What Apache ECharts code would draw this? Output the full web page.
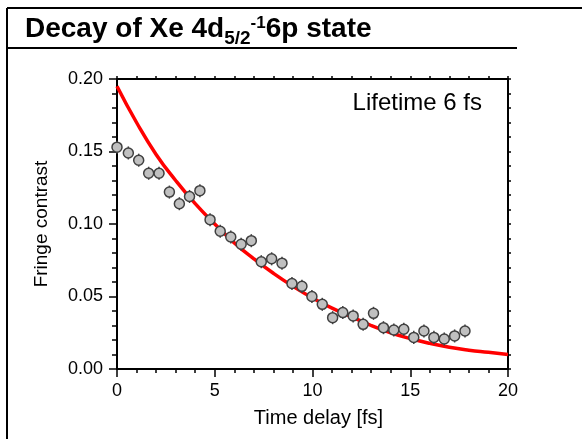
<!DOCTYPE html>
<html>
<head>
<meta charset="utf-8">
<script src="https://cdn.jsdelivr.net/npm/echarts@6/dist/echarts.min.js"></script>
<style>
  html, body { margin: 0; padding: 0; background: #fff; }
  #chart { width: 582px; height: 439px; }
</style>
</head>
<body>
<div id="chart"></div>
<script>
// measured points (time delay in fs, fringe contrast, error)
const timeDelay = [0, 0.58, 1.11, 1.62, 2.15, 2.68, 3.19, 3.71, 4.24, 4.76, 5.28, 5.82,
    6.35, 6.87, 7.38, 7.91, 8.44, 8.95, 9.46, 9.97, 10.50, 11.03, 11.55, 12.08,
    12.59, 13.12, 13.63, 14.16, 14.67, 15.18, 15.70, 16.21, 16.74, 17.27, 17.80];
const contrast = [0.153, 0.149, 0.144, 0.135, 0.135, 0.122, 0.114, 0.119, 0.123, 0.103, 0.095, 0.091,
    0.086, 0.0885, 0.074, 0.076, 0.073, 0.059, 0.057, 0.050, 0.0446, 0.0354, 0.0389, 0.0366,
    0.0308, 0.0384, 0.0285, 0.0269, 0.0274, 0.0218, 0.0262, 0.0218, 0.0207, 0.0228, 0.0262];
const errors = [0.0045, 0.0045, 0.0045, 0.0045, 0.0045, 0.0045, 0.0045, 0.0045, 0.0045, 0.0045, 0.0045, 0.0045,
    0.0045, 0.0045, 0.0045, 0.0045, 0.0045, 0.0045, 0.0045, 0.0045, 0.0045, 0.0045, 0.0045, 0.0045,
    0.0045, 0.0045, 0.0045, 0.0045, 0.0045, 0.0045, 0.0045, 0.0045, 0.0045, 0.0045, 0.0045];

// fitted decay curve
const fitTime = [0, 1, 2, 3, 4, 5, 6, 7, 8, 9, 10, 11, 12, 13, 14, 15, 16, 17, 18, 19, 20];
const fitValue = [0.195, 0.170, 0.148, 0.130, 0.114, 0.100, 0.087, 0.076, 0.066, 0.057, 0.049,
    0.042, 0.036, 0.030, 0.025, 0.021, 0.0177, 0.015, 0.013, 0.0115, 0.010];

const xTicks = [0, 5, 10, 15, 20];
const yTicks = [0, 0.05, 0.10, 0.15, 0.20];

const FONT = '"Liberation Sans", Arial, sans-serif';

const chart = echarts.init(document.getElementById('chart'), null, { renderer: 'canvas' });

const points = timeDelay.map((t, i) => [t, contrast[i]]);
const bars = timeDelay.map((t, i) => [t, contrast[i] - errors[i], contrast[i] + errors[i]]);
const fit = fitTime.map((t, i) => [t, fitValue[i]]);

const axisLine = { show: true, onZero: false, lineStyle: { color: '#000', width: 2 } };

const option = {
    backgroundColor: '#fff',
    animation: false,
    grid: { left: 117, right: 74, top: 79, bottom: 70 },
    xAxis: [{
        type: 'value',
        position: 'bottom',
        min: xTicks[0],
        max: xTicks[xTicks.length - 1],
        interval: 5,
        axisLine: axisLine,
        axisTick: { length: 8, lineStyle: { color: '#000', width: 1.5 } },
        minorTick: { show: true, splitNumber: 5, length: 4, lineStyle: { color: '#000', width: 1.5 } },
        splitLine: { show: false },
        axisLabel: { color: '#000', fontSize: 18, fontFamily: FONT, margin: 13 },
        name: 'Time delay [fs]',
        nameLocation: 'middle',
        nameGap: 39,
        nameTextStyle: { color: '#000', fontSize: 20, fontFamily: FONT, padding: [0, 0, 0, 12] }
    }, {
        type: 'value',
        position: 'top',
        min: xTicks[0],
        max: xTicks[xTicks.length - 1],
        interval: 5,
        axisLine: axisLine,
        axisTick: { length: 3, lineStyle: { color: '#000', width: 1.5 } },
        minorTick: { show: true, splitNumber: 5, length: 3, lineStyle: { color: '#000', width: 1.5 } },
        splitLine: { show: false },
        axisLabel: { show: false }
    }],
    yAxis: [{
        type: 'value',
        position: 'left',
        min: yTicks[0],
        max: yTicks[yTicks.length - 1],
        interval: 0.05,
        axisLine: axisLine,
        axisTick: { length: 8, lineStyle: { color: '#000', width: 1.5 } },
        minorTick: { show: true, splitNumber: 5, length: 5, lineStyle: { color: '#000', width: 1.5 } },
        splitLine: { show: false },
        axisLabel: {
            color: '#000', fontSize: 18, fontFamily: FONT, margin: 14,
            formatter: v => v.toFixed(2)
        },
        name: 'Fringe contrast',
        nameLocation: 'middle',
        nameGap: 66,
        nameTextStyle: { color: '#000', fontSize: 19, fontFamily: FONT }
    }, {
        type: 'value',
        position: 'right',
        min: yTicks[0],
        max: yTicks[yTicks.length - 1],
        interval: 0.05,
        axisLine: axisLine,
        axisTick: { length: 3, lineStyle: { color: '#000', width: 1.5 } },
        minorTick: { show: true, splitNumber: 5, length: 3, lineStyle: { color: '#000', width: 1.5 } },
        splitLine: { show: false },
        axisLabel: { show: false }
    }],
    graphic: [
        // frame: top line, left line, title underline
        { type: 'line', shape: { x1: 7, y1: 8, x2: 582, y2: 8 }, style: { stroke: '#000', lineWidth: 2 } },
        { type: 'line', shape: { x1: 7, y1: 8, x2: 7, y2: 439 }, style: { stroke: '#000', lineWidth: 2 } },
        { type: 'line', shape: { x1: 7, y1: 48, x2: 517, y2: 48 }, style: { stroke: '#000', lineWidth: 2 } },
        {
            type: 'text', left: 25, top: 10,
            style: {
                text: '{m|Decay of Xe 4d}{sub|5/2}{sup|-1}{m|6p state}',
                fill: '#000',
                rich: {
                    m: { fontSize: 28, fontWeight: 'bold', fontFamily: FONT, lineHeight: 38 },
                    sub: { fontSize: 19, fontWeight: 'bold', fontFamily: FONT, verticalAlign: 'bottom', lineHeight: 19 },
                    sup: { fontSize: 17, fontWeight: 'bold', fontFamily: FONT, verticalAlign: 'top', lineHeight: 17, padding: [5, 0, 0, 0] }
                }
            }
        },
        {
            type: 'text', right: 100, top: 91,
            style: { text: 'Lifetime 6 fs', fill: '#000', fontSize: 24, fontFamily: FONT }
        }
    ],
    series: [{
        type: 'line',
        data: fit,
        smooth: true,
        showSymbol: false,
        lineStyle: { color: '#ff0000', width: 3.5 },
        z: 3
    }, {
        type: 'custom',
        data: bars,
        renderItem: (params, api) => {
            const lo = api.coord([api.value(0), api.value(1)]);
            const hi = api.coord([api.value(0), api.value(2)]);
            return {
                type: 'line',
                shape: { x1: lo[0], y1: lo[1], x2: hi[0], y2: hi[1] },
                style: { stroke: '#404040', lineWidth: 1.5 }
            };
        },
        z: 4
    }, {
        type: 'scatter',
        data: points,
        symbol: 'circle',
        symbolSize: 10,
        itemStyle: { color: '#c0c0c0', borderColor: '#404040', borderWidth: 1.5, opacity: 1 },
        z: 5
    }]
};

chart.setOption(option);
</script>
</body>
</html>
